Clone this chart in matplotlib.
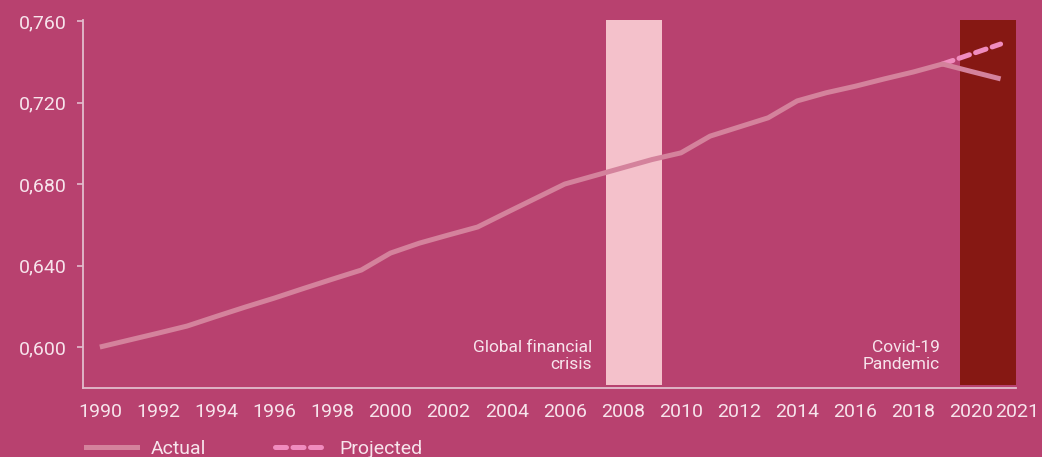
import matplotlib
matplotlib.use("Agg")
import matplotlib.pyplot as plt
import matplotlib.transforms as mtransforms
from matplotlib.lines import Line2D
from matplotlib.ticker import FuncFormatter

years = [1990, 1991, 1992, 1993, 1994, 1995, 1996, 1997, 1998, 1999, 2000,
         2001, 2002, 2003, 2004, 2005, 2006, 2007, 2008, 2009, 2010,
         2011, 2012, 2013, 2014, 2015, 2016, 2017, 2018, 2019, 2020, 2021]
actual = [0.600, 0.6034, 0.6068, 0.6103, 0.615, 0.6196, 0.624, 0.6287, 0.6333, 0.6378, 0.6461,
          0.651, 0.655, 0.6589, 0.666, 0.673, 0.680, 0.684, 0.688, 0.692, 0.6953,
          0.7035, 0.708, 0.7125, 0.7208, 0.7248, 0.728, 0.7316, 0.735, 0.7389, 0.7352, 0.7316]
proj_years = [2019, 2020, 2021]
projected = [0.7389, 0.7438, 0.7487]

crisis_start, crisis_end = 2007.42, 2009.35
covid_start, covid_end = 2019.6, 2021.53

xtick_pos = [1990, 1992, 1994, 1996, 1998, 2000, 2002, 2004, 2006, 2008, 2010,
             2012, 2014, 2016, 2018, 2020, 2021]
ytick_pos = [0.600, 0.640, 0.680, 0.720, 0.760]

BG = "#B8416F"
TXT = "#F7E4EC"
SPINE = "#E3BCCD"
ACT = "#D4829C"
PROJ = "#F08CBE"
CRISIS = "#F4C1CB"
COVID = "#861813"

plt.rcParams['font.family'] = ['Roboto', 'DejaVu Sans']

fig = plt.figure(figsize=(10.42, 4.57), dpi=100, facecolor=BG)
ax = fig.add_axes([83/1042, 1 - 388/457, (1016-83)/1042, (388-20)/457])
ax.set_facecolor(BG)

ax.set_xlim(1989.42, 2021.53)
ax.set_ylim(0.5799, 0.7605)

bar_bottom = 0.5815
ax.bar([(crisis_start + crisis_end)/2], [0.7605 - bar_bottom], bottom=bar_bottom,
       width=crisis_end - crisis_start, color=CRISIS, zorder=1, linewidth=0)
ax.bar([(covid_start + covid_end)/2], [0.7605 - bar_bottom], bottom=bar_bottom,
       width=covid_end - covid_start, color=COVID, zorder=1, linewidth=0)

ax.plot(proj_years, projected, color=PROJ, lw=3.6, dashes=(2.2, 1.3),
        dash_capstyle='round', zorder=3)
ax.plot(years, actual, color=ACT, lw=3.6, solid_capstyle='butt',
        solid_joinstyle='round', zorder=4)

ax.text(crisis_start - 0.48, 0.5955, "Global financial\ncrisis", ha='right', va='center',
        color=TXT, fontsize=12.5, linespacing=1.15)
ax.text(covid_start - 0.68, 0.5955, "Covid-19\nPandemic", ha='right', va='center',
        color=TXT, fontsize=12.5, linespacing=1.15)

for s in ['top', 'right']:
    ax.spines[s].set_visible(False)
for s in ['left', 'bottom']:
    ax.spines[s].set_color(SPINE)
    ax.spines[s].set_linewidth(1.3)

ax.set_xticks(xtick_pos)
ax.set_xticklabels([str(x) for x in xtick_pos])
ax.set_yticks(ytick_pos)
ax.yaxis.set_major_formatter(FuncFormatter(lambda v, p: f"{v:.3f}".replace('.', ',')))
ax.tick_params(axis='x', length=0, pad=11, colors=TXT, labelsize=14)
ax.tick_params(axis='y', length=4, width=1.2, color=SPINE, pad=8, labelcolor=TXT, labelsize=14)

# shift last label (2021) slightly right as in the reference
last = ax.get_xticklabels()[-1]
last.set_transform(last.get_transform() + mtransforms.ScaledTranslation(0.17, 0, fig.dpi_scale_trans))

handles = [Line2D([], [], color=ACT, lw=3.6),
           Line2D([], [], color=PROJ, lw=3.6, dashes=(2.2, 1.3), dash_capstyle='round')]
leg = fig.legend(handles, ["Actual", "Projected"], loc='center left',
                 bbox_to_anchor=(86/1042, 1 - 449/457), ncol=2, frameon=False,
                 fontsize=14, handlelength=2.6, handletextpad=0.75, columnspacing=3.5,
                 labelcolor=TXT, borderaxespad=0, borderpad=0)

fig.savefig("out.png", dpi=100, facecolor=BG)
